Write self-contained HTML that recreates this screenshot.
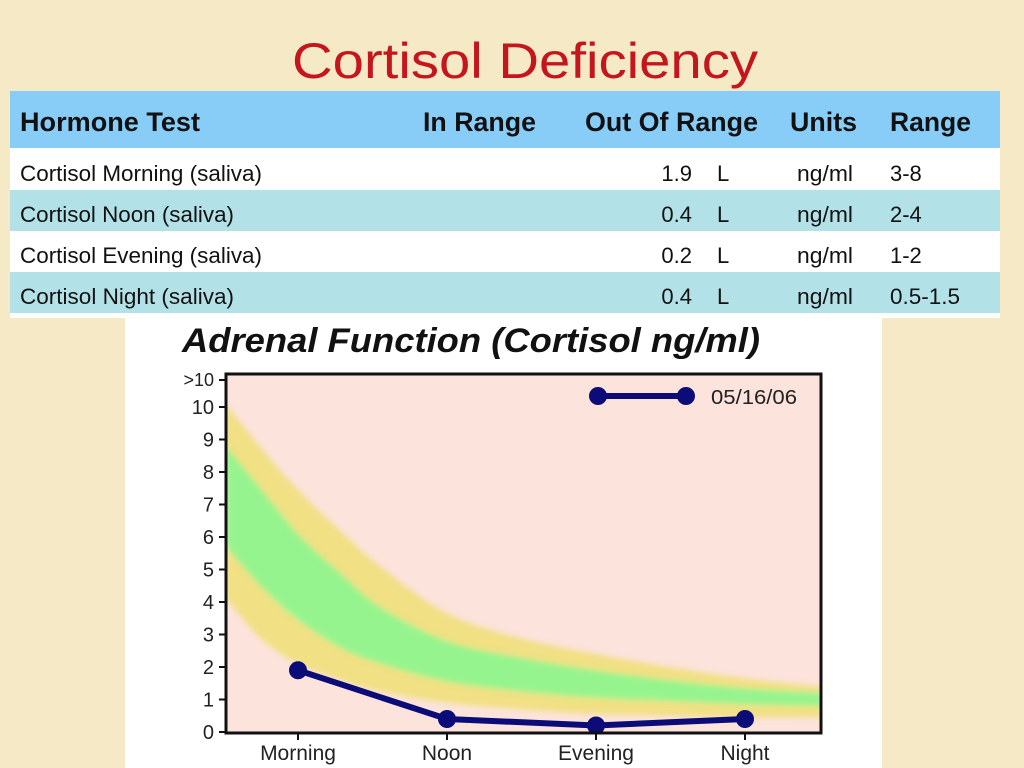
<!DOCTYPE html>
<html><head><meta charset="utf-8"><title>Cortisol Deficiency</title>
<style>html,body{margin:0;padding:0;background:#f6e9c6;}svg{display:block;}text{font-family:"Liberation Sans",sans-serif;}</style>
</head><body>
<svg id="page" width="1024" height="768" viewBox="0 0 1024 768" xmlns="http://www.w3.org/2000/svg">
<defs>
<filter id="blur" x="-5%" y="-5%" width="110%" height="110%"><feGaussianBlur stdDeviation="3"/></filter>
<clipPath id="plotclip"><rect x="226" y="374" width="595" height="358"/></clipPath>
</defs>
<rect x="0" y="0" width="1024" height="768" fill="#f6e9c6"/>
<text x="525" y="78" text-anchor="middle" font-size="50" fill="#c4161c" textLength="466" lengthAdjust="spacingAndGlyphs">Cortisol Deficiency</text>

<g>
<rect x="10" y="91" width="990" height="227" fill="#ffffff"/>
<rect x="10" y="91" width="990" height="57" fill="#88ccf8"/>
<rect x="10" y="190" width="990" height="41" fill="#b2e2e8"/>
<rect x="10" y="272" width="990" height="41" fill="#b2e2e8"/>
<g font-size="27" font-weight="bold" fill="#111">
<text x="20" y="131" textLength="180" lengthAdjust="spacingAndGlyphs">Hormone Test</text>
<text x="423" y="131" textLength="113" lengthAdjust="spacingAndGlyphs">In Range</text>
<text x="585" y="131" textLength="173" lengthAdjust="spacingAndGlyphs">Out Of Range</text>
<text x="790" y="131" textLength="67" lengthAdjust="spacingAndGlyphs">Units</text>
<text x="890" y="131" textLength="81" lengthAdjust="spacingAndGlyphs">Range</text>
</g>
<g font-size="22" fill="#111">
<text x="20" y="181" textLength="242" lengthAdjust="spacingAndGlyphs">Cortisol Morning (saliva)</text>
<text x="692" y="181" text-anchor="end">1.9</text>
<text x="717" y="181">L</text>
<text x="797" y="181" textLength="56" lengthAdjust="spacingAndGlyphs">ng/ml</text>
<text x="890" y="181">3-8</text>
<text x="20" y="222" textLength="214" lengthAdjust="spacingAndGlyphs">Cortisol Noon (saliva)</text>
<text x="692" y="222" text-anchor="end">0.4</text>
<text x="717" y="222">L</text>
<text x="797" y="222" textLength="56" lengthAdjust="spacingAndGlyphs">ng/ml</text>
<text x="890" y="222">2-4</text>
<text x="20" y="263" textLength="242" lengthAdjust="spacingAndGlyphs">Cortisol Evening (saliva)</text>
<text x="692" y="263" text-anchor="end">0.2</text>
<text x="717" y="263">L</text>
<text x="797" y="263" textLength="56" lengthAdjust="spacingAndGlyphs">ng/ml</text>
<text x="890" y="263">1-2</text>
<text x="20" y="304" textLength="214" lengthAdjust="spacingAndGlyphs">Cortisol Night (saliva)</text>
<text x="692" y="304" text-anchor="end">0.4</text>
<text x="717" y="304">L</text>
<text x="797" y="304" textLength="56" lengthAdjust="spacingAndGlyphs">ng/ml</text>
<text x="890" y="304" textLength="70" lengthAdjust="spacingAndGlyphs">0.5-1.5</text>
</g>
</g>

<g id="chart">
<rect x="125" y="318" width="757" height="450" fill="#ffffff"/>
<text x="182" y="352" font-size="34" font-weight="bold" font-style="italic" fill="#111" textLength="578" lengthAdjust="spacingAndGlyphs">Adrenal Function (Cortisol ng/ml)</text>
<rect x="226" y="374" width="595" height="358" fill="#fce3dc"/>
<g id="bands" clip-path="url(#plotclip)"></g>
<g id="axes"></g>
<g id="series"></g>
<rect x="226" y="374" width="595" height="359" fill="none" stroke="#111" stroke-width="3"/>
<g>
<line x1="598" y1="396" x2="686" y2="396" stroke="#0c0c78" stroke-width="6"/>
<circle cx="598" cy="396" r="9" fill="#0c0c78"/>
<circle cx="686" cy="396" r="9" fill="#0c0c78"/>
<text x="711" y="404" font-size="20" fill="#222" textLength="86" lengthAdjust="spacingAndGlyphs">05/16/06</text>
</g>
</g>
</svg>
<script>
const categories = ["Morning", "Noon", "Evening", "Night"];
const cortisolValues = [1.9, 0.4, 0.2, 0.4];
const yTickValues = [0,1,2,3,4,5,6,7,8,9,10];
const yTickLabels = ["0","1","2","3","4","5","6","7","8","9","10"];
const overTickLabel = ">10";
// reference band positions along the time axis, in category units (0=Morning, 3=Night)
const bandT = [-0.483, -0.242, 0, 0.282, 0.55, 1, 1.483, 2, 2.49, 3, 3.517];
const bandYellowUpper = [10.1, 8.7, 7.45, 6.2, 5.1, 3.65, 2.9, 2.4, 2.0, 1.65, 1.4];
const bandGreenUpper  = [8.8, 7.45, 6.1, 4.9, 3.85, 2.8, 2.3, 1.9, 1.6, 1.35, 1.2];
const bandGreenLower  = [5.7, 4.45, 3.45, 2.6, 2.1, 1.55, 1.25, 1.05, 0.95, 0.85, 0.8];
const bandYellowLower = [4.1, 2.85, 2.1, 1.6, 1.25, 0.9, 0.7, 0.55, 0.5, 0.45, 0.45];

const NS = "http://www.w3.org/2000/svg";
const X0 = 298, XSTEP = 149;
function xPos(i){ return X0 + i*XSTEP; }
function yPos(v){ return 732 - v*32.5; }

function mk(tag, attrs, parent){
  const e = document.createElementNS(NS, tag);
  for (const k in attrs) e.setAttribute(k, attrs[k]);
  parent.appendChild(e); return e;
}
function spline(pts){
  let d = "M" + pts[0][0] + "," + pts[0][1];
  for (let i=0;i<pts.length-1;i++){
    const p0 = pts[Math.max(0,i-1)], p1 = pts[i], p2 = pts[i+1], p3 = pts[Math.min(pts.length-1,i+2)];
    const c1x = p1[0] + (p2[0]-p0[0])/6, c1y = p1[1] + (p2[1]-p0[1])/6;
    const c2x = p2[0] - (p3[0]-p1[0])/6, c2y = p2[1] - (p3[1]-p1[1])/6;
    d += " C" + c1x + "," + c1y + " " + c2x + "," + c2y + " " + p2[0] + "," + p2[1];
  }
  return d;
}
function bandPath(upper, lower){
  const up = upper.map((v,i)=>[xPos(bandT[i]), yPos(v)]);
  const lo = lower.map((v,i)=>[xPos(bandT[i]), yPos(v)]).reverse();
  return spline(up) + " L" + spline(lo).slice(1) + " Z";
}
const bands = document.getElementById("bands");
const bg = mk("g", {filter:"url(#blur)"}, bands);
const yb = mk("path", {d: bandPath(bandYellowUpper, bandYellowLower), fill:"#f1e084"}, bg);


const gb = mk("path", {d: bandPath(bandGreenUpper, bandGreenLower), fill:"#96f48e"}, bg);



const axes = document.getElementById("axes");
yTickValues.forEach((v,i)=>{
  const y = yPos(v);
  const t = mk("line", {x1:219, y1:y, x2:226, y2:y, stroke:"#111", "stroke-width":2}, axes);
  
  
  const l = mk("text", {x:214, y:y+7, "text-anchor":"end", "font-size":20, fill:"#222"}, axes);
  
  
  l.textContent = yTickLabels[i];
});
const oy = 380;
const ot = mk("line", {x1:219, y1:oy, x2:226, y2:oy, stroke:"#111", "stroke-width":2}, axes);


const ol = mk("text", {x:214, y:oy+6, "text-anchor":"end", "font-size":18, fill:"#222"}, axes);


ol.textContent = overTickLabel;
categories.forEach((c,i)=>{
  const x = xPos(i);
  const t = mk("line", {x1:x, y1:733, x2:x, y2:740, stroke:"#111", "stroke-width":2}, axes);
  
  
  const l = mk("text", {x:x, y:760, "text-anchor":"middle", "font-size":21, fill:"#222"}, axes);
  
  
  l.textContent = c;
});

const series = document.getElementById("series");
const pts = cortisolValues.map((v,i)=>xPos(i)+","+yPos(v)).join(" ");
const pl = mk("polyline", {points:pts, fill:"none", stroke:"#0c0c78", "stroke-width":6, "stroke-linejoin":"round"}, series);


cortisolValues.forEach((v,i)=>{
  const c = mk("circle", {cx:xPos(i), cy:yPos(v), r:9, fill:"#0c0c78"}, series);
  
  
});
</script>
</body></html>
